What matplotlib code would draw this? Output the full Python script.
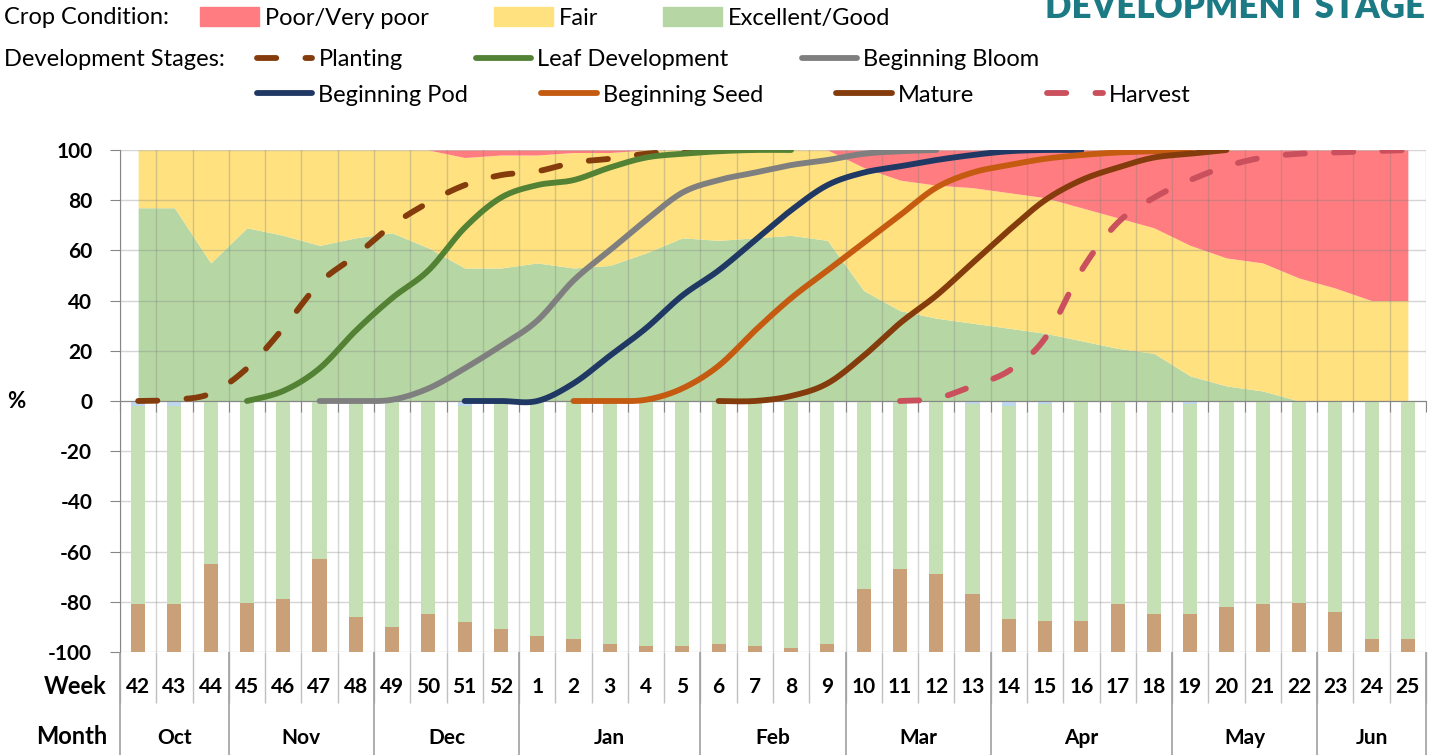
import numpy as np
import matplotlib.pyplot as plt
from matplotlib.lines import Line2D
from matplotlib.patches import Patch

plt.rcParams['font.family'] = ['Lato', 'DejaVu Sans']
plt.rcParams['axes.unicode_minus'] = False

W, H = 1429, 755
nan = np.nan

# ---- data -------------------------------------------------------------
weeks = [42, 43, 44, 45, 46, 47, 48, 49, 50, 51, 52,
         1, 2, 3, 4, 5, 6, 7, 8, 9, 10, 11, 12, 13, 14, 15, 16, 17, 18,
         19, 20, 21, 22, 23, 24, 25]
months = ['Oct', 'Nov', 'Dec', 'Jan', 'Feb', 'Mar', 'Apr', 'May', 'Jun']
month_lengths = [3, 4, 4, 5, 4, 4, 5, 4, 3]

# crop condition (% of area)
excellent_good = [77, 77, 55, 69, 66, 62, 65, 67, 61, 53, 53,
                  55, 53, 54, 59, 65, 64, 65, 66, 64, 44, 36, 33, 31, 29, 27,
                  24, 21, 19, 10, 6, 4, 0, 0, 0, 0]
fair = [23, 23, 45, 31, 34, 38, 35, 33, 39, 44, 45,
        43, 46, 45, 41, 35, 36, 35, 34, 36, 49, 52, 53, 54, 54, 54,
        53, 52, 50, 52, 51, 51, 49, 45, 40, 40]
poor = [0, 0, 0, 0, 0, 0, 0, 0, 0, 3, 2,
        2, 1, 1, 0, 0, 0, 0, 0, 0, 7, 12, 14, 15, 17, 19,
        23, 27, 31, 38, 43, 45, 51, 55, 60, 60]

# lower bars (drawn downward from 0 to -100)
soil_short = [19, 19, 35, 19.5, 21, 37, 14, 10, 15, 12, 9,
              6.5, 5, 3, 2.5, 2.5, 3, 2.5, 1.7, 3, 25, 33, 31, 23, 13, 12.5,
              12.5, 19, 15, 15, 18, 19, 19.5, 16, 5, 5]
soil_surplus = [2, 2, 0, 0, 0, 0, 0, 0, 0, 2, 0,
                0, 0, 0, 0, 0, 0, 0, 0, 0, 0, 0, 0, 1, 2, 1,
                0, 0, 0, 1, 0, 0, 0, 0, 0, 0]

# development stages (cumulative %)
planting = [0, 0.5, 3, 13, 29, 47, 58, 70, 79, 86, 90, 91.5, 95, 96.5, 98.5,
            99.5, 100] + [nan] * 19
leaf_development = [nan] * 3 + [0, 4, 13, 28, 41, 52, 69, 81, 86, 88, 93, 97,
                                98.5, 99.5, 100, 100] + [nan] * 17
beginning_bloom = [nan] * 5 + [0, 0, 0.5, 5, 13, 22, 32, 48, 60, 72, 83, 88,
                               91, 94, 96, 98.5, 99.5, 100] + [nan] * 13
beginning_pod = [nan] * 9 + [0, 0, 0, 7, 18, 29, 42, 52, 64, 76, 86, 91, 93.5,
                             96, 98, 99.5, 100, 100] + [nan] * 9
beginning_seed = [nan] * 12 + [0, 0, 0.5, 5, 14, 28, 41, 52, 63, 74, 85, 91,
                               94, 96.5, 98, 99, 99.5, 100] + [nan] * 6
mature = [nan] * 16 + [0, 0, 2, 7, 18, 31, 42, 55, 68, 80, 88, 93, 97, 98.5,
                       100] + [nan] * 5
harvest = [nan] * 21 + [0, 1, 6, 12, 25, 52, 71, 81, 88, 93.5, 97, 98.5, 99,
                        99.5, 100]

C_POOR, C_FAIR, C_GOOD = '#FF7C80', '#FFE17F', '#B6D7A4'
C_BAR_GREEN, C_BAR_BROWN, C_BAR_BLUE = '#C5E0B4', '#C9A078', '#BDD7EE'
AX_GRAY = '#868686'


def smooth(x, y, n=24):
    """Excel-like smoothed line (Catmull-Rom through the points)."""
    x = np.asarray(x, float)
    y = np.asarray(y, float)
    ok = ~np.isnan(y)
    P = np.column_stack([x[ok], y[ok]])
    t = np.linspace(0, 1, n + 1)[1:, None]
    h00 = 2 * t**3 - 3 * t**2 + 1
    h10 = t**3 - 2 * t**2 + t
    h01 = -2 * t**3 + 3 * t**2
    h11 = t**3 - t**2
    pts = [P[:1]]
    for i in range(len(P) - 1):
        p0 = P[i - 1] if i > 0 else P[i]
        p1, p2 = P[i], P[i + 1]
        p3 = P[i + 2] if i + 2 < len(P) else P[i + 1]
        m1, m2 = (p2 - p0) / 2, (p3 - p1) / 2
        pts.append(h00 * p1 + h10 * m1 + h01 * p2 + h11 * m2)
    pts = np.vstack(pts)
    return pts[:, 0], pts[:, 1]


fig = plt.figure(figsize=(W / 100, H / 100), dpi=100)
ax = fig.add_axes([120 / W, 1 - 652 / H, (1426 - 120) / W, (652 - 150) / H])

x = np.arange(len(weeks))
eg = np.array(excellent_good, float)
fr = np.array(fair, float)
pr = np.array(poor, float)

# stacked condition areas
ax.fill_between(x, 0, eg, color=C_GOOD, lw=0, zorder=1)
ax.fill_between(x, eg, eg + fr, color=C_FAIR, lw=0, zorder=1)
ax.fill_between(x, eg + fr, eg + fr + pr, color=C_POOR, lw=0, zorder=1)

# lower stacked bars
short = np.array(soil_short, float)
surplus = np.array(soil_surplus, float)
adequate = 100 - short - surplus
bw = 0.39
ax.bar(x, short, bottom=-100, width=bw, color=C_BAR_BROWN, lw=0, zorder=2)
ax.bar(x, adequate, bottom=-100 + short, width=bw, color=C_BAR_GREEN, lw=0, zorder=2)
ax.bar(x, surplus, bottom=-surplus, width=bw, color=C_BAR_BLUE, lw=0, zorder=2)

# development stage lines
LW = 4.2
dash = (0, (3.3, 5.0))
stages = [
    ('Planting', planting, '#843C0C', dash),
    ('Leaf Development', leaf_development, '#548235', '-'),
    ('Beginning Bloom', beginning_bloom, '#7F7F7F', '-'),
    ('Beginning Pod', beginning_pod, '#203864', '-'),
    ('Beginning Seed', beginning_seed, '#C55A11', '-'),
    ('Mature', mature, '#843C0C', '-'),
    ('Harvest', harvest, '#C9505C', dash),
]
handles = []
for name, vals, col, ls in stages:
    sx, sy = smooth(x, vals)
    ax.plot(sx, sy, color=col, lw=LW, ls=ls, solid_capstyle='round',
            dash_capstyle='round', zorder=3)
    handles.append(Line2D([], [], color=col, lw=LW, ls=ls,
                          solid_capstyle='round', dash_capstyle='round',
                          label=name))

# axes styling
ax.set_xlim(-0.5, len(weeks) - 0.5)
ax.set_ylim(-100, 100)
ax.set_yticks(np.arange(-100, 101, 20))
ax.set_xticks(np.arange(-0.5, len(weeks)))
ax.set_xticklabels([])
ax.tick_params(axis='y', length=7, color=AX_GRAY, pad=13, labelsize=15)
ax.tick_params(axis='x', length=8, color=AX_GRAY, direction='out')
for lab in ax.get_yticklabels():
    lab.set_fontweight('bold')
ax.grid(True, color='#7F7F7F', alpha=0.32, lw=1)
for s in ['top', 'right']:
    ax.spines[s].set_visible(False)
ax.spines['bottom'].set_position(('data', 0))
ax.spines['bottom'].set_color(AX_GRAY)
ax.spines['left'].set_color(AX_GRAY)

# week / month table under the plot
tr = ax.get_xaxis_transform()
bounds = np.arange(-0.5, len(weeks))
ax.vlines(bounds, -0.1016, 0, transform=tr, color='#BFBFBF', lw=1, clip_on=False)
for i, w in enumerate(weeks):
    ax.text(i, -0.07, str(w), transform=tr, ha='center', va='center',
            fontsize=15, fontweight='bold', clip_on=False)
edges = np.concatenate([[0], np.cumsum(month_lengths)]) - 0.5
ax.vlines(edges, -0.21, 0, transform=tr, color='#A0A0A0', lw=1.2, clip_on=False)
for m, a, b in zip(months, edges[:-1], edges[1:]):
    ax.text((a + b) / 2, -0.172, m, transform=tr, ha='center', va='center',
            fontsize=15, fontweight='bold', clip_on=False)
fig.text(107 / W, 1 - 687 / H, 'Week', ha='right', va='center', fontsize=17,
         fontweight='bold')
fig.text(107 / W, 1 - 736 / H, 'Month', ha='right', va='center', fontsize=17,
         fontweight='bold')
fig.text(16 / W, 1 - 401 / H, '%', ha='center', va='center', fontsize=16,
         fontweight='bold')

# legends
FS = 17
fig.text(4 / W, 1 - 18 / H, 'Crop Condition:', ha='left', va='center', fontsize=FS)
fig.text(4 / W, 1 - 60 / H, 'Development Stages:', ha='left', va='center', fontsize=FS)
cond_handles = [Patch(color=C_POOR, label='Poor/Very poor'),
                Patch(color=C_FAIR, label='Fair'),
                Patch(color=C_GOOD, label='Excellent/Good')]
common = dict(frameon=False, borderpad=0, borderaxespad=0, fontsize=FS,
              handletextpad=0.25)
leg1 = fig.legend(handles=cond_handles, ncol=3, loc='center left',
                  bbox_to_anchor=(200 / W, 1 - 18 / H), handlelength=2.5,
                  handleheight=0.88, columnspacing=2.75, **common)
leg2 = fig.legend(handles=handles[:3], ncol=3, loc='center left',
                  bbox_to_anchor=(257 / W, 1 - 60 / H), handlelength=2.35,
                  columnspacing=3.1, **common)
leg3 = fig.legend(handles=handles[3:], ncol=4, loc='center left',
                  bbox_to_anchor=(257 / W, 1 - 95 / H), handlelength=2.35,
                  columnspacing=3.1, **common)

fig.text(1425 / W, 1 - 18 / H, 'DEVELOPMENT STAGE', ha='right', va='baseline',
         fontsize=25, fontweight='heavy', color='#1B7A84')

fig.savefig('out.png', dpi=100)
